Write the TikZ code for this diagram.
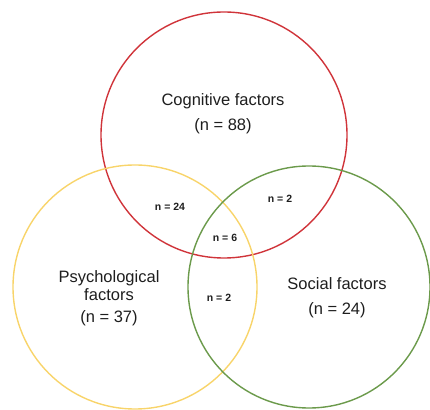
\documentclass[tikz,border=0pt]{standalone}
\usepackage{fontspec}
\setmainfont{Liberation Sans}
\definecolor{cogred}{HTML}{D0343A}
\definecolor{psyyellow}{HTML}{F8D46A}
\definecolor{socgreen}{HTML}{6B9A4B}
\definecolor{txt}{HTML}{1E1E1E}
\begin{document}
\begin{tikzpicture}[x=1pt,y=1pt,
  setcircle/.style={circle, draw, line width=1.4pt, minimum size=#1, inner sep=0pt},
  biglabel/.style={text=txt, font=\fontsize{16.5}{18}\selectfont, align=center},
  smalllabel/.style={text=txt, font=\bfseries\fontsize{10.5}{11}\selectfont}]
  \useasboundingbox (0,0) rectangle (430,409);
  % three overlapping sets
  \node[setcircle=246pt, cogred] (cog) at (224,274) {};
  \node[setcircle=244pt, psyyellow] (psy) at (135,122) {};
  \node[setcircle=242pt, socgreen] (soc) at (309,122) {};
  % set labels
  \node[biglabel] (cogl) at (223,295.5) {Cognitive factors\\[7pt](n = 88)};
  \node[biglabel] (psyl) at (109,111) {Psychological\\factors\\[4pt](n = 37)};
  \node[biglabel] (socl) at (337,111) {Social factors\\[7pt](n = 24)};
  % overlap counts
  \node[smalllabel] (cp) at (170,202) {n = 24};
  \node[smalllabel] (cs) at (280,210) {n = 2};
  \node[smalllabel] (cps) at (225,171) {n = 6};
  \node[smalllabel] (ps) at (219,111) {n = 2};
\end{tikzpicture}
\end{document}
